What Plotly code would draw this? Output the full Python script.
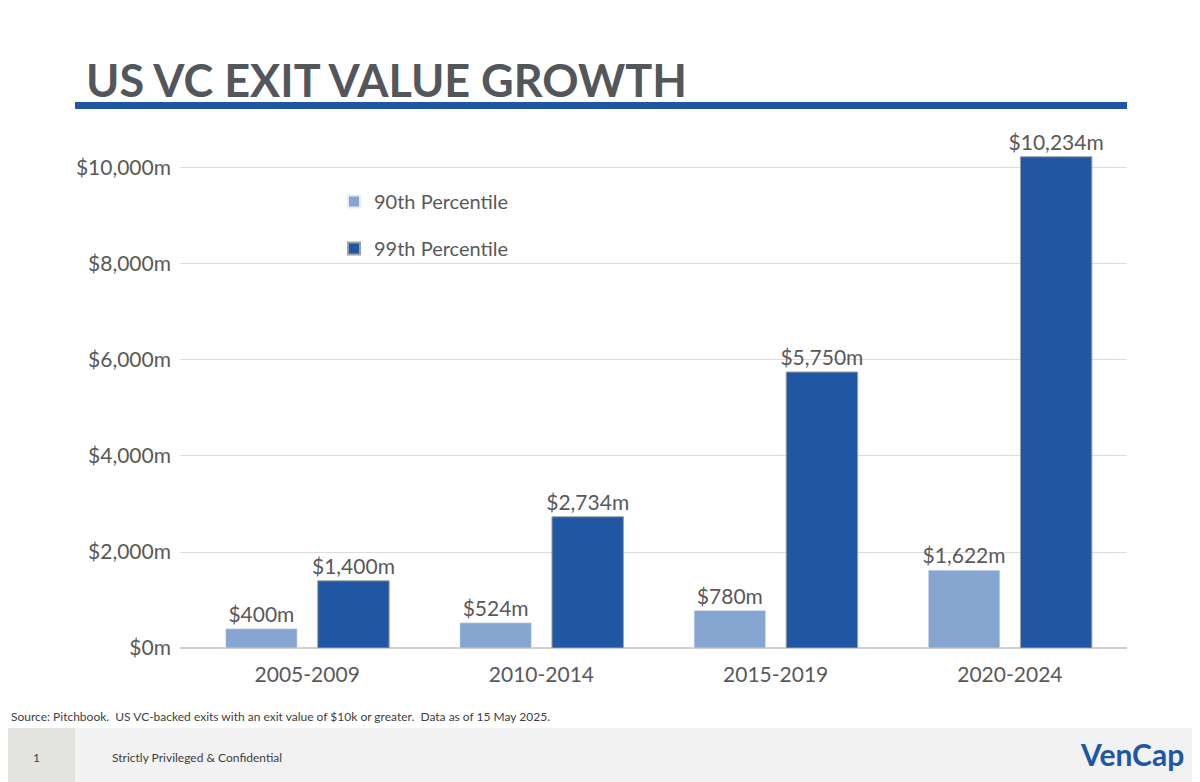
import plotly.graph_objects as go

periods = ["2005-2009", "2010-2014", "2015-2019", "2020-2024"]
p90 = [400, 524, 780, 1622]
p99 = [1400, 2734, 5750, 10234]
ytick_vals = [0, 2000, 4000, 6000, 8000, 10000]
ytick_text = ["$0m", "$2,000m", "$4,000m", "$6,000m", "$8,000m", "$10,000m"]

light = "#87a5d1"
dark = "#2057a5"
grey = "#595959"
font = "Lato"

# page body has an 8px margin, so work in a 1192x774 canvas
W, H = 1192, 774
L, T, PW, PH = 172, 132, 947, 508


def px(x):  # reference pixel x -> paper
    return (x - 8 - L) / PW


def py(y):  # reference pixel y -> paper
    return (T + PH - (y - 8)) / PH


fig = go.Figure()
fig.add_trace(go.Bar(x=periods, y=p90, name="90th Percentile", marker_color=light,
                     width=0.305, offset=-0.348, legendgroup="a",
                     text=[f"${v:,}m" for v in p90], textposition="outside",
                     constraintext="none",
                     textfont=dict(size=21, color=grey), cliponaxis=False))
fig.add_trace(go.Bar(x=periods, y=p99, name="99th Percentile", marker_color=dark,
                     marker_line=dict(color="#a0a0a0", width=1), legendgroup="b",
                     width=0.305, offset=0.045,
                     text=[f"${v:,}m" for v in p99], textposition="outside",
                     constraintext="none",
                     textfont=dict(size=21, color=grey), cliponaxis=False))

fig.update_layout(
    width=W, height=H, barmode="overlay",
    paper_bgcolor="white", plot_bgcolor="white",
    font=dict(family=font, color=grey),
    margin=dict(l=L, r=W - L - PW, t=T, b=H - T - PH),
    showlegend=True,
    legend=dict(x=px(334), y=py(182), xanchor="left", yanchor="top",
                font=dict(size=20, color=grey),
                itemsizing="constant", tracegroupgap=18, bgcolor="rgba(0,0,0,0)"),
    xaxis=dict(range=[-0.543, 3.5], tickfont=dict(size=21, color=grey), showline=False,
               ticks="", ticklabelstandoff=12),
    yaxis=dict(range=[0, 10583], tickvals=ytick_vals, ticktext=ytick_text,
               tickfont=dict(size=21, color=grey), gridcolor="#dcdcdc", zeroline=True,
               zerolinecolor="#d0d0d0", ticks="", ticklabelstandoff=8),
)

fig.add_shape(type="rect", xref="paper", yref="paper", x0=px(75), x1=px(1127),
              y0=py(109), y1=py(102), fillcolor=dark, line_width=0)
fig.add_shape(type="rect", xref="paper", yref="paper", x0=px(0), x1=px(1200),
              y0=py(782), y1=py(728), fillcolor="#f2f2f2", line_width=0, layer="below")
fig.add_shape(type="rect", xref="paper", yref="paper", x0=px(0), x1=px(75),
              y0=py(782), y1=py(728), fillcolor="#e3e3df", line_width=0, layer="below")

fig.add_annotation(text="<b>US VC EXIT VALUE GROWTH</b>", xref="paper", yref="paper",
                   x=px(84), y=py(80), xanchor="left", yanchor="middle",
                   showarrow=False, font=dict(size=45, color="#53565a", family=font))
fig.add_annotation(text="Source: Pitchbook.  US VC-backed exits with an exit value of $10k or greater.  Data as of 15 May 2025.",
                   xref="paper", yref="paper", x=px(9), y=py(716),
                   xanchor="left", yanchor="middle", showarrow=False,
                   font=dict(size=12, color="#404040", family=font))
fig.add_annotation(text="1", xref="paper", yref="paper", x=px(36), y=py(757),
                   xanchor="center", yanchor="middle", showarrow=False,
                   font=dict(size=12, color="#404040", family=font))
fig.add_annotation(text="Strictly Privileged & Confidential", xref="paper", yref="paper",
                   x=px(110), y=py(757), xanchor="left", yanchor="middle",
                   showarrow=False, font=dict(size=12, color="#404040", family=font))
fig.add_annotation(text="<b>VenCap</b>", xref="paper", yref="paper", x=px(1186),
                   y=py(754), xanchor="right", yanchor="middle", showarrow=False,
                   font=dict(size=30, color=dark, family=font))

fig.write_html("out.html")
